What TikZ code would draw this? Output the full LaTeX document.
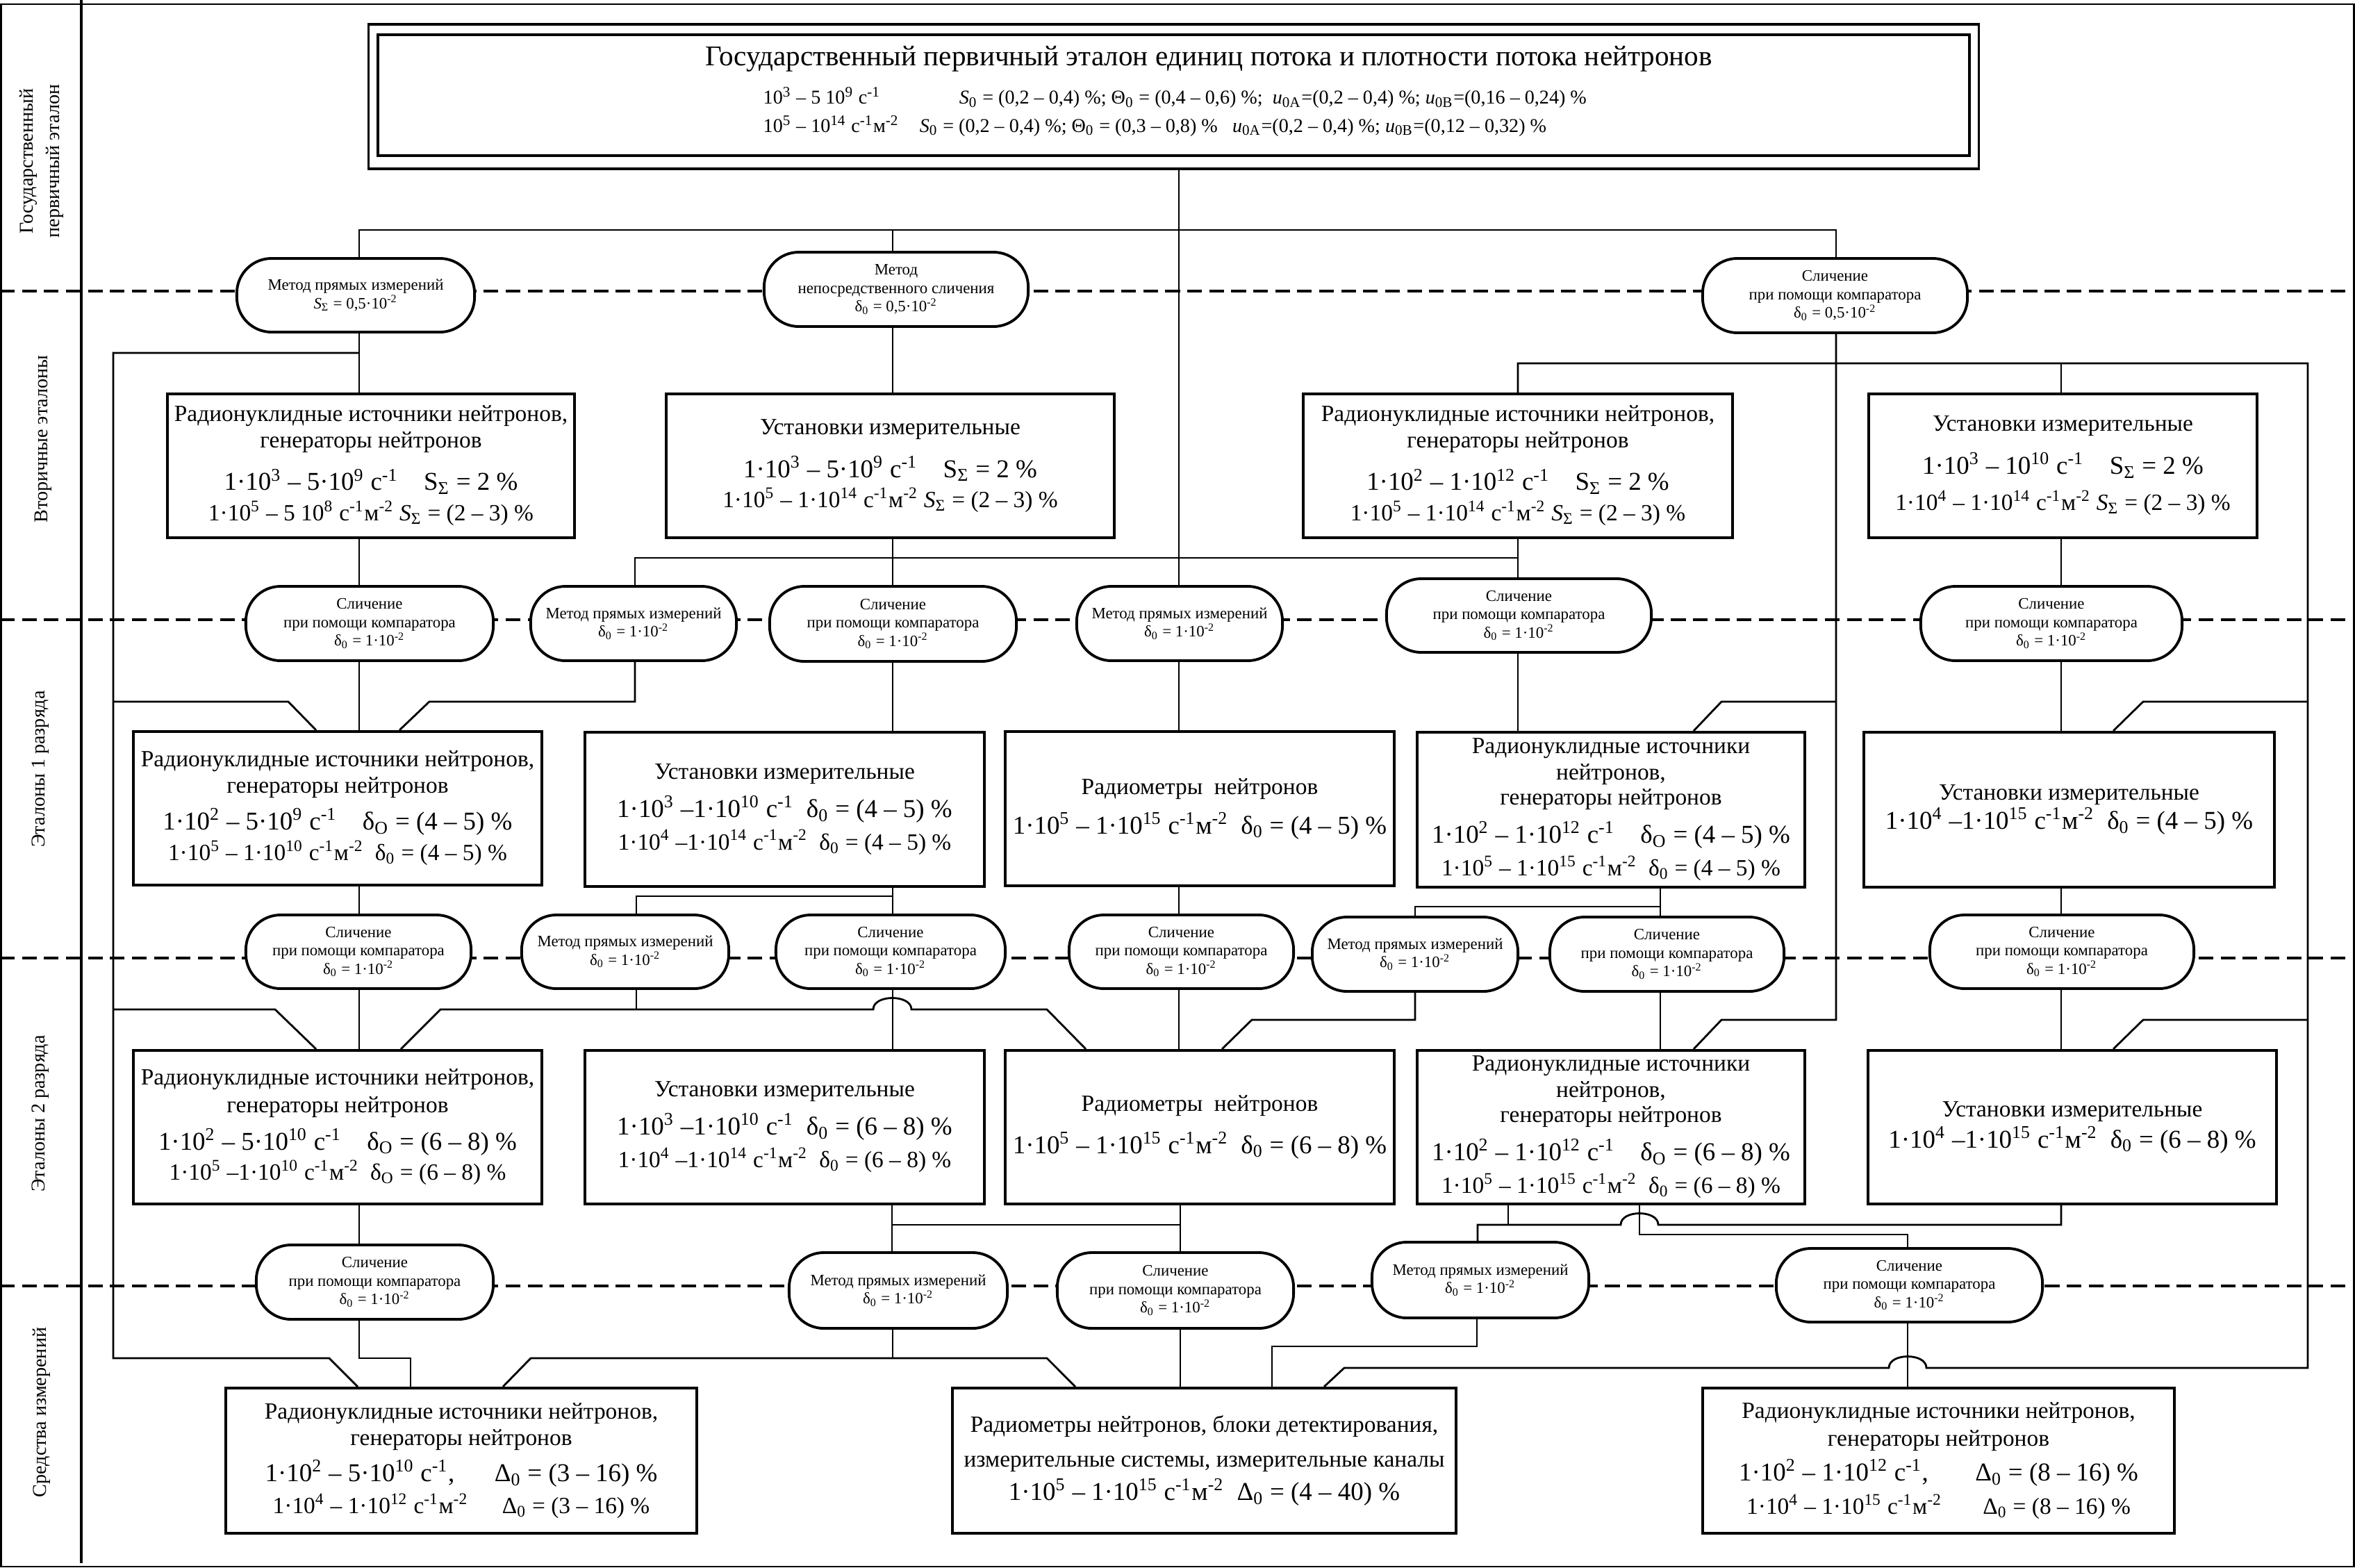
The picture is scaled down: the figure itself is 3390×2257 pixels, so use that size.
\documentclass[tikz,border=0pt]{standalone}
\usepackage{fontspec}
\setmainfont{Liberation Serif}
\newcommand{\spt}[1]{\textsuperscript{#1}}
\newcommand{\sbt}[1]{\textsubscript{#1}}
\newcommand{\mth}{\fontsize{10.5}{12}\selectfont}
\newcommand{\slichA}{Сличение\\при помощи компаратора\\δ\sbt{0} = 1·10\spt{-2}}
\newcommand{\metA}{Метод прямых измерений\\δ\sbt{0} = 1·10\spt{-2}}
\tikzset{
  outerframe/.style={line width=0.6pt},
  lanesep/.style={line width=0.9pt, dash pattern=on 6pt off 3pt},
  conn/.style={line width=0.8pt},
  bx/.style={draw, line width=1.1pt, fill=white, align=center, inner sep=0pt, font=\fontsize{9.5}{12}\selectfont},
  ov/.style={draw, line width=1.1pt, fill=white, align=center, inner sep=0pt, rounded corners=0.5cm, font=\fontsize{6.5}{7.6}\selectfont},
  lanelbl/.style={rotate=90, align=center, inner sep=0pt, font=\fontsize{8}{10.8}\selectfont},
}
\begin{document}
\begin{tikzpicture}[x=0.01cm, y=-0.01cm]
\useasboundingbox (0,0) rectangle (3390,2257);
% frame and lanes
\draw[outerframe] (1.5,6) rectangle (3388.5,2255);
\draw[line width=0.9pt] (117,0) -- (117,2250);
\foreach \yy in {419,892,1379,1851} \draw[lanesep] (0,\yy) -- (3390,\yy);
% lane labels
\node[lanelbl] (lbl1) at (60,232) {Государственный\\первичный эталон};
\node[lanelbl] (lbl2) at (62,632) {Вторичные эталоны};
\node[lanelbl] (lbl3) at (58,1107) {Эталоны 1 разряда};
\node[lanelbl] (lbl4) at (58,1603) {Эталоны 2 разряда};
\node[lanelbl] (lbl5) at (60,2033) {Средства измерений};
% title
\node[draw, line width=0.9pt, minimum width=23.17cm, minimum height=2.08cm, inner sep=0pt] (tout) at (1689.5,139) {};
\node[draw, line width=1.2pt, minimum width=22.89cm, minimum height=1.74cm, inner sep=0pt] (tin) at (1689.5,137) {};
\node[font=\fontsize{11.7}{14}\selectfont, inner sep=0pt] (ttl) at (1740,85) {Государственный первичный эталон единиц потока и плотности потока нейтронов};
\node[font=\fontsize{8}{11.4}\selectfont, align=left, anchor=west, inner sep=0pt] (tpar) at (1098,161)
{\makebox[2.82cm][l]{10\spt{3} – 5 10\spt{9} с\spt{-1}}\textit{S}\sbt{0} = (0,2 – 0,4) \%; Θ\sbt{0} = (0,4 – 0,6) \%;\ \ \textit{u}\sbt{0A}=(0,2 – 0,4) \%; \textit{u}\sbt{0B}=(0,16 – 0,24) \%\\
\makebox[2.25cm][l]{10\spt{5} – 10\spt{14} с\spt{-1}м\spt{-2}}\textit{S}\sbt{0} = (0,2 – 0,4) \%; Θ\sbt{0} = (0,3 – 0,8) \%\ \ \ \textit{u}\sbt{0A}=(0,2 – 0,4) \%;\ \textit{u}\sbt{0B}=(0,12 – 0,32) \%};
% row 1 ovals
\node[ov, minimum width=3.42cm, minimum height=1.06cm] (O1a) at (512,425) {Метод прямых измерений\\\textit{S}\sbt{Σ} = 0,5·10\spt{-2}};
\node[ov, minimum width=3.80cm, minimum height=1.07cm] (O1b) at (1290,416.5) {Метод\\непосредственного сличения\\δ\sbt{0} = 0,5·10\spt{-2}};
\node[ov, minimum width=3.81cm, minimum height=1.07cm] (O1c) at (2641.5,425.5) {Сличение\\при помощи компаратора\\δ\sbt{0} = 0,5·10\spt{-2}};
% row A boxes
\node[bx, minimum width=5.86cm, minimum height=2.07cm] (A1) at (534,670.5)
{Радионуклидные источники нейтронов,\\[-1.2pt]генераторы нейтронов\\[5.4pt]\mth 1·10\spt{3} – 5·10\spt{9} с\spt{-1}\quad S\sbt{Σ} = 2 \%\\[0.5pt]1·10\spt{5} – 5 10\spt{8} с\spt{-1}м\spt{-2} \textit{S}\sbt{Σ} = (2 – 3) \%};
\node[bx, minimum width=6.45cm, minimum height=2.07cm] (A2) at (1281.5,670.5)
{Установки измерительные\\[5.6pt]\mth 1·10\spt{3} – 5·10\spt{9} с\spt{-1}\quad S\sbt{Σ} = 2 \%\\[0.4pt]1·10\spt{5} – 1·10\spt{14} с\spt{-1}м\spt{-2} \textit{S}\sbt{Σ} = (2 – 3) \%};
\node[bx, minimum width=6.18cm, minimum height=2.07cm] (A3) at (2185,670.5)
{Радионуклидные источники нейтронов,\\[-1.2pt]генераторы нейтронов\\[5.4pt]\mth 1·10\spt{2} – 1·10\spt{12} с\spt{-1}\quad S\sbt{Σ} = 2 \%\\[0.5pt]1·10\spt{5} – 1·10\spt{14} с\spt{-1}м\spt{-2} \textit{S}\sbt{Σ} = (2 – 3) \%};
\node[bx, minimum width=5.59cm, minimum height=2.07cm] (A4) at (2969.5,670.5)
{Установки измерительные\\[5.6pt]\mth 1·10\spt{3} – 10\spt{10} с\spt{-1}\quad S\sbt{Σ} = 2 \%\\[2.8pt]1·10\spt{4} – 1·10\spt{14} с\spt{-1}м\spt{-2} \textit{S}\sbt{Σ} = (2 – 3) \%};
% row 2 ovals
\node[ov, minimum width=3.56cm, minimum height=1.07cm] (O2a) at (532,897.5) {\slichA};
\node[ov, minimum width=2.96cm, minimum height=1.07cm] (O2b) at (912,897.5) {\metA};
\node[ov, minimum width=3.55cm, minimum height=1.08cm] (O2c) at (1285.5,898) {\slichA};
\node[ov, minimum width=2.96cm, minimum height=1.07cm] (O2d) at (1698,897.5) {\metA};
\node[ov, minimum width=3.81cm, minimum height=1.06cm] (O2e) at (2186.5,886) {\slichA};
\node[ov, minimum width=3.76cm, minimum height=1.07cm] (O2f) at (2953,897.5) {\slichA};
% row B boxes
\node[bx, minimum width=5.88cm, minimum height=2.21cm] (B1) at (486,1163.5)
{Радионуклидные источники нейтронов,\\[-1.2pt]генераторы нейтронов\\[3.1pt]\mth 1·10\spt{2} – 5·10\spt{9} с\spt{-1}\quad δ\sbt{O} = (4 – 5) \%\\[0.5pt]1·10\spt{5} – 1·10\spt{10} с\spt{-1}м\spt{-2}\enspace δ\sbt{0} = (4 – 5) \%};
\node[bx, minimum width=5.75cm, minimum height=2.22cm] (B2) at (1129.5,1165)
{Установки измерительные\\[3.6pt]\mth 1·10\spt{3} –1·10\spt{10} с\spt{-1}\enspace δ\sbt{0} = (4 – 5) \%\\[1.4pt]1·10\spt{4} –1·10\spt{14} с\spt{-1}м\spt{-2}\enspace δ\sbt{0} = (4 – 5) \%};
\node[bx, minimum width=5.60cm, minimum height=2.22cm] (B3) at (1727,1164)
{Радиометры\ \ нейтронов\\[4.2pt]\mth 1·10\spt{5} – 1·10\spt{15} с\spt{-1}м\spt{-2}\enspace δ\sbt{0} = (4 – 5) \%};
\node[bx, minimum width=5.58cm, minimum height=2.23cm] (B4) at (2319,1165.5)
{Радионуклидные источники\\[-1.2pt]нейтронов,\\[-1.8pt]генераторы нейтронов\\[3.6pt]\mth 1·10\spt{2} – 1·10\spt{12} с\spt{-1}\quad δ\sbt{O} = (4 – 5) \%\\[1.4pt]1·10\spt{5} – 1·10\spt{15} с\spt{-1}м\spt{-2}\enspace δ\sbt{0} = (4 – 5) \%};
\node[bx, minimum width=5.91cm, minimum height=2.23cm] (B5) at (2978.5,1165.5)
{Установки измерительные\\[0pt]\mth 1·10\spt{4} –1·10\spt{15} с\spt{-1}м\spt{-2}\enspace δ\sbt{0} = (4 – 5) \%};
% row 3 ovals
\node[ov, minimum width=3.24cm, minimum height=1.06cm] (O3a) at (516,1370) {\slichA};
\node[ov, minimum width=2.98cm, minimum height=1.06cm] (O3b) at (900,1370) {\metA};
\node[ov, minimum width=3.30cm, minimum height=1.06cm] (O3c) at (1282,1370) {\slichA};
\node[ov, minimum width=3.23cm, minimum height=1.06cm] (O3d) at (1700.5,1370) {\slichA};
\node[ov, minimum width=2.96cm, minimum height=1.07cm] (O3e) at (2037,1373.5) {\metA};
\node[ov, minimum width=3.37cm, minimum height=1.07cm] (O3f) at (2399.5,1373.5) {\slichA};
\node[ov, minimum width=3.80cm, minimum height=1.06cm] (O3g) at (2968,1370) {\slichA};
% row C boxes
\node[bx, minimum width=5.88cm, minimum height=2.21cm] (C1) at (486,1622.5)
{Радионуклидные источники нейтронов,\\[-0.6pt]генераторы нейтронов\\[3.1pt]\mth 1·10\spt{2} – 5·10\spt{10} с\spt{-1}\quad δ\sbt{O} = (6 – 8) \%\\[0.5pt]1·10\spt{5} –1·10\spt{10} с\spt{-1}м\spt{-2}\enspace δ\sbt{O} = (6 – 8) \%};
\node[bx, minimum width=5.75cm, minimum height=2.21cm] (C2) at (1129.5,1622.5)
{Установки измерительные\\[3.6pt]\mth 1·10\spt{3} –1·10\spt{10} с\spt{-1}\enspace δ\sbt{0} = (6 – 8) \%\\[1.4pt]1·10\spt{4} –1·10\spt{14} с\spt{-1}м\spt{-2}\enspace δ\sbt{0} = (6 – 8) \%};
\node[bx, minimum width=5.60cm, minimum height=2.21cm] (C3) at (1727,1622.5)
{Радиометры\ \ нейтронов\\[5.1pt]\mth 1·10\spt{5} – 1·10\spt{15} с\spt{-1}м\spt{-2}\enspace δ\sbt{0} = (6 – 8) \%};
\node[bx, minimum width=5.58cm, minimum height=2.21cm] (C4) at (2319,1622.5)
{Радионуклидные источники\\[-1.2pt]нейтронов,\\[-1.8pt]генераторы нейтронов\\[3.6pt]\mth 1·10\spt{2} – 1·10\spt{12} с\spt{-1}\quad δ\sbt{O} = (6 – 8) \%\\[1.4pt]1·10\spt{5} – 1·10\spt{15} с\spt{-1}м\spt{-2}\enspace δ\sbt{0} = (6 – 8) \%};
\node[bx, minimum width=5.88cm, minimum height=2.21cm] (C5) at (2983,1622.5)
{Установки измерительные\\[0.8pt]\mth 1·10\spt{4} –1·10\spt{15} с\spt{-1}м\spt{-2}\enspace δ\sbt{0} = (6 – 8) \%};
% row 4 ovals
\node[ov, minimum width=3.41cm, minimum height=1.07cm] (O4a) at (539.5,1845.5) {\slichA};
\node[ov, minimum width=3.14cm, minimum height=1.09cm] (O4b) at (1293,1857.5) {\metA};
\node[ov, minimum width=3.40cm, minimum height=1.09cm] (O4c) at (1692,1857.5) {\slichA};
\node[ov, minimum width=3.12cm, minimum height=1.09cm] (O4d) at (2131,1842.5) {\metA};
\node[ov, minimum width=3.83cm, minimum height=1.06cm] (O4e) at (2748.5,1850) {\slichA};
% row D boxes
\node[bx, minimum width=6.78cm, minimum height=2.09cm] (D1) at (664,2102.5)
{Радионуклидные источники нейтронов,\\[-1.2pt]генераторы нейтронов\\[2.8pt]\mth\makebox[3.3cm][l]{1·10\spt{2} – 5·10\spt{10} с\spt{-1},}Δ\sbt{0} = (3 – 16) \%\\[1.1pt]\makebox[3.3cm][l]{1·10\spt{4} – 1·10\spt{12} с\spt{-1}м\spt{-2}}Δ\sbt{0} = (3 – 16) \%};
\node[bx, minimum width=7.25cm, minimum height=2.09cm] (D2) at (1733.5,2102.5)
{Радиометры нейтронов, блоки детектирования,\\[2.2pt]измерительные системы, измерительные каналы\\[1.7pt]\mth 1·10\spt{5} – 1·10\spt{15} с\spt{-1}м\spt{-2}\enspace Δ\sbt{0} = (4 – 40) \%};
\node[bx, minimum width=6.79cm, minimum height=2.09cm] (D3) at (2790.5,2102.5)
{Радионуклидные источники нейтронов,\\[-0.6pt]генераторы нейтронов\\[2.2pt]\mth\makebox[3.4cm][l]{1·10\spt{2} – 1·10\spt{12} с\spt{-1},}Δ\sbt{0} = (8 – 16) \%\\[1.7pt]\makebox[3.4cm][l]{1·10\spt{4} – 1·10\spt{15} с\spt{-1}м\spt{-2}}Δ\sbt{0} = (8 – 16) \%};
% ---------------- connectors
% trunk and top bus
\draw[conn] (tout.south -| 1697,0) -- (O2d.north -| 1697,0);
\draw[conn] (O1a.north -| 517,0) -- (517,331) -- (2643,331) -- (O1c.north -| 2643,0);
\draw[conn] (1285,331) -- (O1b.north -| 1285,0);
\draw[conn] (O1a.south -| 517,0) -- (A1.north -| 517,0);
\draw[conn] (O1b.south -| 1285,0) -- (A2.north -| 1285,0);
% left bypass
\draw[conn] (517,508) -- (163,508) -- (163,1955) -- (474,1955) -- (D1.north -| 515,0);
\draw[conn] (163,1010) -- (415,1010) -- (B1.north -| 455,0);
\draw[conn] (163,1453) -- (396,1453) -- (C1.north -| 455,0);
% right side
\draw[conn] (O1c.south -| 2643,0) -- (2643,1468) -- (2478,1468) -- (C4.north -| 2438,0);
\draw[conn] (2643,1010) -- (2478,1010) -- (B4.north -| 2438,0);
\draw[conn] (A3.north -| 2185,0) -- (2185,523) -- (3322,523) -- (3322,1969) -- (2773,1969)
  .. controls (2773,1947) and (2719,1947) .. (2719,1969) -- (1935,1969) -- (D2.north -| 1906,0);
\draw[conn] (A4.north -| 2967,0) -- (2967,523);
\draw[conn] (3322,1010) -- (3085,1010) -- (B5.north -| 3042,0);
\draw[conn] (3322,1468) -- (3085,1468) -- (C5.north -| 3042,0);
% A row to row 2 ovals
\draw[conn] (A1.south -| 517,0) -- (O2a.north -| 517,0);
\draw[conn] (A2.south -| 1285,0) -- (O2c.north -| 1285,0);
\draw[conn] (A3.south -| 2185,0) -- (O2e.north -| 2185,0);
\draw[conn] (A4.south -| 2967,0) -- (O2f.north -| 2967,0);
\draw[conn] (2185,803) -- (914,803) -- (O2b.north -| 914,0);
% row 2 ovals to B row
\draw[conn] (O2a.south -| 517,0) -- (B1.north -| 517,0);
\draw[conn] (O2b.south -| 914,0) -- (914,1010) -- (618,1010) -- (B1.north -| 575,0);
\draw[conn] (O2c.south -| 1285,0) -- (B2.north -| 1285,0);
\draw[conn] (O2d.south -| 1697,0) -- (B3.north -| 1697,0);
\draw[conn] (O2e.south -| 2185,0) -- (B4.north -| 2185,0);
\draw[conn] (O2f.south -| 2967,0) -- (B5.north -| 2967,0);
% B row to row 3 ovals
\draw[conn] (B1.south -| 517,0) -- (O3a.north -| 517,0);
\draw[conn] (B2.south -| 1285,0) -- (O3c.north -| 1285,0);
\draw[conn] (1285,1290) -- (916,1290) -- (O3b.north -| 916,0);
\draw[conn] (B3.south -| 1697,0) -- (O3d.north -| 1697,0);
\draw[conn] (B4.south -| 2390,0) -- (O3f.north -| 2390,0);
\draw[conn] (2390,1305) -- (2037,1305) -- (O3e.north -| 2037,0);
\draw[conn] (B5.south -| 2967,0) -- (O3g.north -| 2967,0);
% row 3 ovals to C row
\draw[conn] (O3a.south -| 517,0) -- (C1.north -| 517,0);
\draw[conn] (O3b.south -| 916,0) -- (916,1453);
\draw[conn] (C1.north -| 577,0) -- (634,1453) -- (1257,1453)
  .. controls (1257,1431) and (1312,1431) .. (1312,1453) -- (1507,1453) -- (C3.north -| 1563,0);
\draw[conn] (O3c.south -| 1285,0) -- (C2.north -| 1285,0);
\draw[conn] (O3d.south -| 1697,0) -- (C3.north -| 1697,0);
\draw[conn] (O3e.south -| 2037,0) -- (2037,1468) -- (1802,1468) -- (C3.north -| 1759,0);
\draw[conn] (O3f.south -| 2390,0) -- (C4.north -| 2390,0);
\draw[conn] (O3g.south -| 2967,0) -- (C5.north -| 2967,0);
% C row to row 4 ovals
\draw[conn] (C1.south -| 517,0) -- (O4a.north -| 517,0);
\draw[conn] (C2.south -| 1284,0) -- (O4b.north -| 1284,0);
\draw[conn] (1284,1763) -- (1699,1763);
\draw[conn] (C3.south -| 1699,0) -- (O4c.north -| 1699,0);
\draw[conn] (C4.south -| 2171,0) -- (2171,1763);
\draw[conn] (O4d.north -| 2127,0) -- (2127,1763) -- (2333,1763)
  .. controls (2333,1741) and (2387,1741) .. (2387,1763) -- (2967,1763) -- (C5.south -| 2967,0);
\draw[conn] (C4.south -| 2360,0) -- (2360,1777) -- (2746,1777) -- (O4e.north -| 2746,0);
% row 4 ovals to D row
\draw[conn] (O4a.south -| 517,0) -- (517,1955) -- (591,1955) -- (D1.north -| 591,0);
\draw[conn] (O4b.south -| 1285,0) -- (1285,1955);
\draw[conn] (D1.north -| 724,0) -- (764,1955) -- (1507,1955) -- (D2.north -| 1548,0);
\draw[conn] (O4c.south -| 1699,0) -- (D2.north -| 1699,0);
\draw[conn] (O4d.south -| 2126,0) -- (2126,1938) -- (1831,1938) -- (D2.north -| 1831,0);
\draw[conn] (O4e.south -| 2746,0) -- (D3.north -| 2746,0);
\end{tikzpicture}
\end{document}
